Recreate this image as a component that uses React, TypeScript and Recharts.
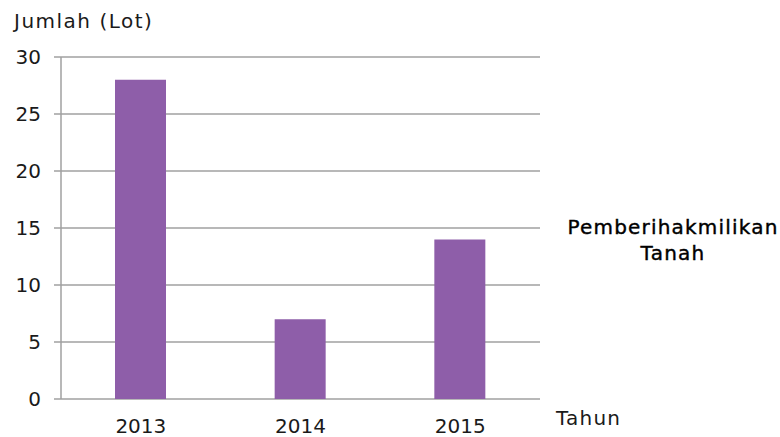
import React from 'react';
import { BarChart, Bar, XAxis, YAxis, CartesianGrid, Legend } from 'recharts';

const categories = ['2013', '2014', '2015'];
const values = [28, 7, 14];
const yTicks = [0, 5, 10, 15, 20, 25, 30];
const boundaryTicks = [0, 1, 2, 3];
const seriesName = 'Pemberihakmilikan Tanah';

const data = categories.map((c, i) => ({ year: c, value: values[i], idx: i + 0.5 }));

const FONT = '"DejaVu Sans", sans-serif';
const AXIS = '#a0a0a0';
const TXT = '#1a1a1a';

const LegendContent = () => (
  <div
    style={{
      fontFamily: FONT,
      fontSize: 20,
      color: '#000',
      textAlign: 'center',
      lineHeight: '26px',
      letterSpacing: '1.2px',
      WebkitTextStroke: '0.4px #000',
    }}
  >
    <div>Pemberihakmilikan</div>
    <div>Tanah</div>
  </div>
);

export default function App() {
  return (
    <div style={{ position: 'absolute', left: 0, top: 0, width: 780, height: 437, background: '#fff' }}>
      <BarChart
        width={780}
        height={437}
        data={data}
        margin={{ top: 57, right: 240, bottom: 0, left: 0 }}
        barSize={51}
      >
        <CartesianGrid vertical={false} stroke={AXIS} strokeWidth={1.3} />
        <XAxis
          xAxisId="b"
          type="number"
          dataKey="idx"
          domain={[0, 3]}
          ticks={boundaryTicks}
          height={0}
          tickSize={6}
          tickFormatter={() => ''}
          axisLine={{ stroke: AXIS, strokeWidth: 1.5 }}
          tickLine={{ stroke: AXIS, strokeWidth: 1.5 }}
        />
        <XAxis
          xAxisId="a"
          dataKey="year"
          height={38}
          axisLine={false}
          tickLine={false}
          tickMargin={14}
          tick={{ fontFamily: FONT, fontSize: 20, fill: TXT }}
          label={{ value: 'Tahun', position: 'right', offset: 16, fontFamily: FONT, fontSize: 20, fill: TXT, letterSpacing: 1.2 }}
        />
        <YAxis
          width={61}
          domain={[0, 30]}
          ticks={yTicks}
          interval={0}
          tickSize={7}
          tickMargin={13}
          axisLine={{ stroke: AXIS, strokeWidth: 1.5 }}
          tickLine={{ stroke: AXIS, strokeWidth: 1.5 }}
          tick={{ fontFamily: FONT, fontSize: 20, fill: TXT }}
          label={{
            content: () => (
              <text x={14} y={28} fontFamily={FONT} fontSize={20} fill={TXT} letterSpacing={1.5}>Jumlah (Lot)</text>
            ),
          }}
        />
        <Legend
          content={<LegendContent />}
          layout="horizontal"
          align="center"
          verticalAlign="middle"
          wrapperStyle={{ position: 'absolute', left: 560, top: 214, width: 226 }}
        />
        <Bar xAxisId="a" dataKey="value" name={seriesName} fill="#8e5ea9" isAnimationActive={false} />
      </BarChart>
    </div>
  );
}
